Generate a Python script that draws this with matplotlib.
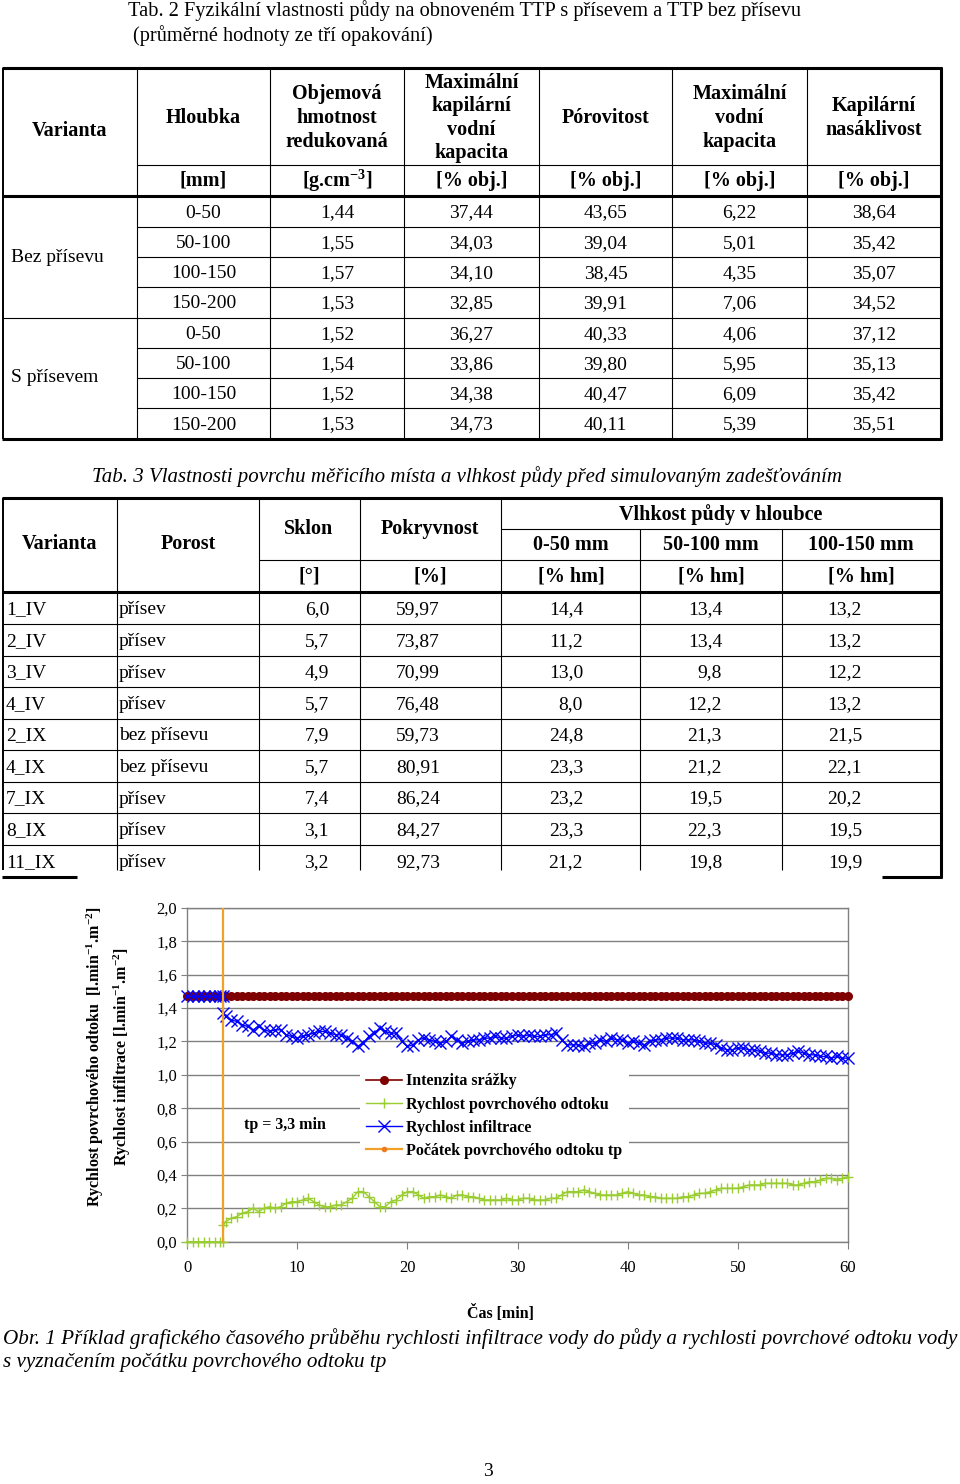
import matplotlib
matplotlib.use('Agg')
import matplotlib.pyplot as plt
import numpy as np
from matplotlib.lines import Line2D
from matplotlib.patches import Rectangle
from matplotlib.ticker import FuncFormatter, MultipleLocator

plt.rcParams['font.family'] = ['Liberation Serif', 'DejaVu Serif']
plt.rcParams['mathtext.fontset'] = 'custom'
plt.rcParams['mathtext.rm'] = 'Liberation Serif'
plt.rcParams['mathtext.bf'] = 'Liberation Serif:bold'
plt.rcParams['mathtext.default'] = 'regular'

# ---------------- Tab. 2 data ----------------
tab2_title = ["Tab. 2 Fyzikální vlastnosti půdy na obnoveném TTP s přísevem a TTP bez přísevu",
              "(průměrné hodnoty ze tří opakování)"]
tab2_headers = ["Varianta", "Hloubka", "Objemová\nhmotnost\nredukovaná",
                "Maximální\nkapilární\nvodní\nkapacita", "Pórovitost",
                "Maximální\nvodní\nkapacita", "Kapilární\nnasáklivost"]
tab2_units = ["[mm]", "[g.cm$^{-3}$]", "[% obj.]", "[% obj.]", "[% obj.]", "[% obj.]"]
tab2_groups = ["Bez přísevu", "S přísevem"]
depths = ["0-50", "50-100", "100-150", "150-200", "0-50", "50-100", "100-150", "150-200"]
bulk_density = [1.44, 1.55, 1.57, 1.53, 1.52, 1.54, 1.52, 1.53]
max_cap_water = [37.44, 34.03, 34.10, 32.85, 36.27, 33.86, 34.38, 34.73]
porosity = [43.65, 39.04, 38.45, 39.91, 40.33, 39.80, 40.47, 40.11]
max_water_cap = [6.22, 5.01, 4.35, 7.06, 4.06, 5.95, 6.09, 5.39]
cap_absorption = [38.64, 35.42, 35.07, 34.52, 37.12, 35.13, 35.42, 35.51]

# ---------------- Tab. 3 data ----------------
tab3_title = "Tab. 3 Vlastnosti povrchu měřicího místa a vlhkost půdy před simulovaným zadešťováním"
plots = ["1_IV", "2_IV", "3_IV", "4_IV", "2_IX", "4_IX", "7_IX", "8_IX", "11_IX"]
stand = ["přísev", "přísev", "přísev", "přísev", "bez přísevu", "bez přísevu",
         "přísev", "přísev", "přísev"]
slope = [6.0, 5.7, 4.9, 5.7, 7.9, 5.7, 7.4, 3.1, 3.2]
cover = [59.97, 73.87, 70.99, 76.48, 59.73, 80.91, 86.24, 84.27, 92.73]
moist_0_50 = [14.4, 11.2, 13.0, 8.0, 24.8, 23.3, 23.2, 23.3, 21.2]
moist_50_100 = [13.4, 13.4, 9.8, 12.2, 21.3, 21.2, 19.5, 22.3, 19.8]
moist_100_150 = [13.2, 13.2, 12.2, 13.2, 21.5, 22.1, 20.2, 19.5, 19.9]

# ---------------- Chart data ----------------
tp = 3.3
time_pre = [0.0, 0.5, 1.0, 1.5, 2.0, 2.5, 3.0, 3.3]
time_post = np.concatenate(([3.3], np.arange(3.5, 60.01, 0.5)))
infil_pre = [1.47, 1.47, 1.47, 1.47, 1.47, 1.47, 1.47, 1.47]
runoff_pre = [0.0, 0.0, 0.0, 0.0, 0.0, 0.0, 0.0, 0.0]
infil_post = [1.37, 1.35, 1.33, 1.32, 1.30, 1.29, 1.27, 1.29, 1.27, 1.26,
              1.27, 1.27, 1.24, 1.23, 1.22, 1.23, 1.24, 1.25, 1.26, 1.26,
              1.25, 1.24, 1.24, 1.22, 1.20, 1.17, 1.19, 1.23, 1.25, 1.28,
              1.26, 1.25, 1.25, 1.20, 1.17, 1.18, 1.21, 1.22, 1.21, 1.20,
              1.19, 1.20, 1.23, 1.21, 1.19, 1.20, 1.21, 1.21, 1.22, 1.22,
              1.23, 1.22, 1.22, 1.23, 1.24, 1.23, 1.24, 1.23, 1.23, 1.24,
              1.24, 1.25, 1.21, 1.18, 1.18, 1.18, 1.17, 1.19, 1.19, 1.21,
              1.20, 1.22, 1.21, 1.21, 1.19, 1.20, 1.19, 1.18, 1.20, 1.21,
              1.21, 1.22, 1.22, 1.22, 1.21, 1.21, 1.21, 1.20, 1.19, 1.19,
              1.18, 1.16, 1.15, 1.15, 1.16, 1.16, 1.15, 1.15, 1.14, 1.13,
              1.13, 1.12, 1.12, 1.12, 1.13, 1.14, 1.13, 1.12, 1.12, 1.11,
              1.11, 1.10, 1.11, 1.10, 1.10]
runoff_post = [0.10, 0.12, 0.14, 0.15, 0.17, 0.18, 0.20, 0.18, 0.20, 0.21,
               0.20, 0.21, 0.23, 0.24, 0.24, 0.25, 0.26, 0.24, 0.22, 0.21,
               0.21, 0.22, 0.22, 0.24, 0.26, 0.30, 0.30, 0.27, 0.24, 0.21,
               0.21, 0.24, 0.25, 0.28, 0.30, 0.30, 0.28, 0.26, 0.27, 0.27,
               0.28, 0.27, 0.26, 0.28, 0.28, 0.27, 0.27, 0.26, 0.25, 0.25,
               0.25, 0.25, 0.26, 0.25, 0.25, 0.26, 0.26, 0.25, 0.25, 0.25,
               0.26, 0.26, 0.28, 0.30, 0.30, 0.30, 0.31, 0.30, 0.29, 0.28,
               0.28, 0.28, 0.28, 0.29, 0.30, 0.29, 0.28, 0.28, 0.27, 0.27,
               0.26, 0.26, 0.26, 0.26, 0.27, 0.27, 0.28, 0.29, 0.29, 0.30,
               0.31, 0.32, 0.32, 0.32, 0.32, 0.33, 0.34, 0.34, 0.34, 0.35,
               0.35, 0.35, 0.35, 0.35, 0.34, 0.34, 0.35, 0.36, 0.36, 0.37,
               0.38, 0.38, 0.37, 0.38, 0.39]
rain_level = 1.47

time = np.concatenate((time_pre, time_post))
infiltration = np.concatenate((infil_pre, infil_post))
runoff = np.concatenate((runoff_pre, runoff_post))
rain = np.full(len(time), rain_level)

series_labels = ["Intenzita srážky", "Rychlost povrchového odtoku",
                 "Rychlost infiltrace", "Počátek povrchového odtoku tp"]


def cz(v, nd):
    return f"{v:.{nd}f}".replace('.', ',')


W, H = 960, 1484
fig = plt.figure(figsize=(W / 100, H / 100), dpi=100)
bg = fig.add_axes([0, 0, 1, 1])
bg.set_xlim(0, W)
bg.set_ylim(H, 0)
bg.axis('off')

THIN, THICK = 0.8, 2.2


def hline(y, x0, x1, lw=THIN):
    bg.plot([x0, x1], [y, y], color='black', lw=lw, solid_capstyle='butt')


def vline(x, y0, y1, lw=THIN):
    bg.plot([x, x], [y0, y1], color='black', lw=lw, solid_capstyle='butt')


def put(x, y, s, ha='center', size=14, weight='normal', style='normal'):
    return bg.text(x, y, s, ha=ha, va='center', fontsize=size,
                   fontweight=weight, fontstyle=style)


def put_lines(x, yc, s, step=23.6, **kw):
    lines = s.split('\n')
    y0 = yc - step * (len(lines) - 1) / 2
    for i, ln in enumerate(lines):
        put(x, y0 + i * step, ln, **kw)


# ---------------- Tab. 2 ----------------
put(128, 11, tab2_title[0], ha='left', size=14.7)
put(133, 36, tab2_title[1], ha='left', size=14.7)

c2 = [3, 137, 270, 404, 539, 672, 807, 941]
r2 = [196, 227, 257, 287, 318, 348, 378, 408, 439]
hline(68, 2, 942, THICK)
hline(165, 137, 941)
hline(196, 2, 942, THICK)
for y in r2[1:-1]:
    hline(y, 3 if y == 318 else 137, 941)
hline(439, 2, 942, THICK)
vline(3, 68, 439, 1.4)
for x in c2[1:-1]:
    vline(x, 68, 439)
vline(941, 67, 440, THICK)

put(70, 131, tab2_headers[0], weight='bold', size=14.5)
for i in range(1, 7):
    xc = (c2[i] + c2[i + 1]) / 2
    put_lines(xc, 118, tab2_headers[i], weight='bold', size=14.5)
    put(xc, 181, tab2_units[i - 1], weight='bold', size=14.5)

put(11, 257, tab2_groups[0], ha='left')
put(11, 378, tab2_groups[1], ha='left')
cols2 = [depths, [cz(v, 2) for v in bulk_density], [cz(v, 2) for v in max_cap_water],
         [cz(v, 2) for v in porosity], [cz(v, 2) for v in max_water_cap],
         [cz(v, 2) for v in cap_absorption]]
for j, col in enumerate(cols2):
    xc = (c2[j + 1] + c2[j + 2]) / 2
    for i, s in enumerate(col):
        put(xc, (r2[i] + r2[i + 1]) / 2 + 1.5, s)

# ---------------- Tab. 3 ----------------
put(467, 477, tab3_title, style='italic', size=15)

c3 = [3, 117, 259, 360, 501, 640, 782, 941]
r3 = [592, 624, 656, 687, 719, 750, 782, 813, 845, 877]
hline(498, 2, 942, THICK)
hline(529, 501, 941)
hline(560, 259, 941)
hline(592, 2, 942, THICK)
for y in r3[1:-1]:
    hline(y, 3, 941)
hline(877, 2, 77, THICK)
hline(877, 882, 942, THICK)
vline(3, 498, 870, 1.4)
for x in [117, 259, 360, 501]:
    vline(x, 498, 870)
for x in [640, 782]:
    vline(x, 529, 870)
vline(941, 497, 878, THICK)

put(60, 544, "Varianta", weight='bold', size=14.5)
put(188, 544, "Porost", weight='bold', size=14.5)
put(309, 529, "Sklon", weight='bold', size=14.5)
put(430, 529, "Pokryvnost", weight='bold', size=14.5)
put(721, 515, "Vlhkost půdy v hloubce", weight='bold', size=14.5)
put(571, 545, "0-50 mm", weight='bold', size=14.5)
put(711, 545, "50-100 mm", weight='bold', size=14.5)
put(861, 545, "100-150 mm", weight='bold', size=14.5)
put(309, 577, "[°]", weight='bold', size=14.5)
put(430, 577, "[%]", weight='bold', size=14.5)
for xc in [571, 711, 861]:
    put(xc, 577, "[% hm]", weight='bold', size=14.5)

clip = Rectangle((0, 0), W, 870, transform=bg.transData)
for i in range(len(plots)):
    yc = (r3[i] + r3[i + 1]) / 2 + 1.5
    row = [put(6, yc, plots[i], ha='left'),
           put(119, yc, stand[i], ha='left'),
           put(329, yc, cz(slope[i], 1), ha='right'),
           put(440, yc, cz(cover[i], 2), ha='right'),
           put(583, yc, cz(moist_0_50[i], 1), ha='right'),
           put(722, yc, cz(moist_50_100[i], 1), ha='right'),
           put(862, yc, cz(moist_100_150[i], 1), ha='right')]
    for t in row:
        t.set_clip_path(clip)

# ---------------- Chart ----------------
x0, x1, ytop, ybot = 187, 848, 908, 1241.7
ax = fig.add_axes([x0 / W, 1 - ybot / H, (x1 - x0) / W, (ybot - ytop) / H])
ax.set_xlim(0, 60)
ax.set_ylim(0, 2.0)
ax.set_axisbelow(True)
ax.yaxis.set_major_locator(MultipleLocator(0.2))
ax.xaxis.set_major_locator(MultipleLocator(10))
ax.yaxis.set_major_formatter(FuncFormatter(lambda v, p: cz(v, 1)))
ax.grid(axis='y', color='#808080', lw=1.0)
for sp in ax.spines.values():
    sp.set_color('#808080')
    sp.set_linewidth(1.0)
ax.tick_params(axis='x', length=5, color='#808080', labelsize=12, pad=8.5)
ax.tick_params(axis='y', length=4, color='#808080', labelsize=12, pad=3)

l_rain, = ax.plot(time, rain, color='#7F0000', lw=1.2, marker='o', ms=5.5,
                  mec='#7F0000', clip_on=False, zorder=3)
l_run, = ax.plot(time, runoff, color='#9ACD32', lw=1.0, marker='+', ms=7.5,
                 mew=1.0, clip_on=False, zorder=4)
l_inf, = ax.plot(time, infiltration, color='#0000FF', lw=1.0, marker='x', ms=8,
                 mew=1.0, clip_on=False, zorder=5)
ax.axvline(tp, color='#F2A027', lw=1.6, zorder=6)
h_tp = Line2D([], [], color='#F2A027', lw=1.6, marker='o', ms=3,
              mfc='#F07A1E', mec='#F07A1E')

ax.text(8.85, 0.70, f"tp = {cz(tp, 1)} min", ha='center', va='center',
        fontsize=11.5, fontweight='bold')

leg = ax.legend([l_rain, l_run, l_inf, h_tp], series_labels,
                loc='upper left', bbox_to_anchor=(360 / W, 1 - 1067 / H),
                bbox_transform=fig.transFigure, borderaxespad=0,
                prop={'weight': 'bold', 'size': 11.5}, frameon=True,
                facecolor='white', edgecolor='none', framealpha=1,
                fancybox=False, borderpad=0.4, handlelength=2.2,
                handletextpad=0.3, labelspacing=0.45)
leg.set_zorder(7)

fig.text(95 / W, 1 - 1057 / H, "Rychlost povrchového odtoku  [l.min$^{-1}$.m$^{-2}$]",
         rotation=90, ha='center', va='center', fontsize=11.5, fontweight='bold')
fig.text(122 / W, 1 - 1057 / H, "Rychlost infiltrace [l.min$^{-1}$.m$^{-2}$]",
         rotation=90, ha='center', va='center', fontsize=11.5, fontweight='bold')
fig.text(500 / W, 1 - 1313 / H, "Čas [min]", ha='center', va='center',
         fontsize=11.5, fontweight='bold')

put(3, 1339, "Obr. 1 Příklad grafického časového průběhu rychlosti infiltrace vody do půdy "
    "a rychlosti povrchové odtoku vody", ha='left', style='italic', size=15.2)
put(3, 1363, "s vyznačením počátku povrchového odtoku tp", ha='left', style='italic', size=15.2)
put(488, 1472, "3", size=14)

fig.savefig("out.png", dpi=100)
